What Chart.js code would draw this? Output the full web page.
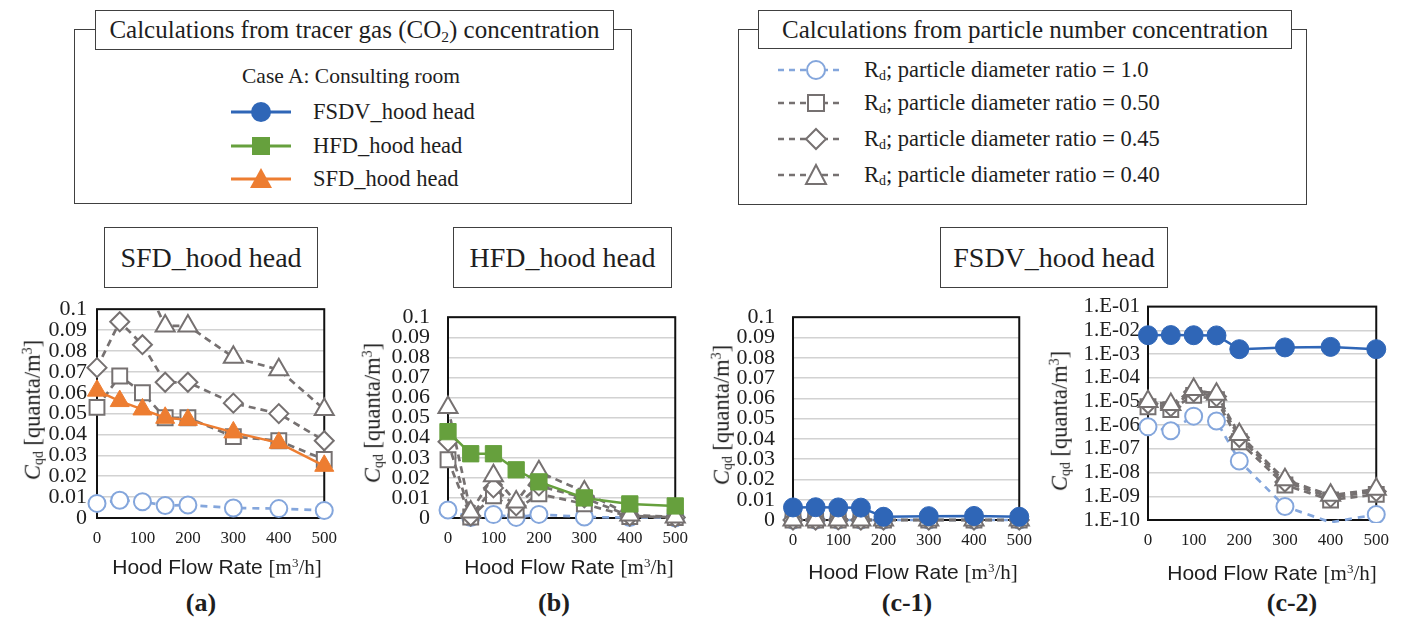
<!DOCTYPE html>
<html><head><meta charset="utf-8">
<script src="https://cdn.jsdelivr.net/npm/chart.js@4.4.1/dist/chart.umd.min.js"></script>
<style>
html,body{margin:0;padding:0;background:#fff;}
body{width:1402px;height:624px;position:relative;overflow:hidden;font-family:'Liberation Serif','Times New Roman',serif;color:#1e1e1e;}
canvas{position:absolute;}
.box{position:absolute;box-sizing:border-box;border:1.5px solid #404040;background:#fff;}
.ttl{display:flex;align-items:center;justify-content:center;white-space:nowrap;}
.c{position:absolute;white-space:nowrap;transform:translate(-50%,-50%);line-height:1;}
.l{position:absolute;white-space:nowrap;transform:translateY(-50%);line-height:1;}
sub{font-size:0.62em;vertical-align:-0.25em;line-height:0;}
sup{font-size:0.62em;vertical-align:0.55em;line-height:0;}
.sans{font-family:'Liberation Sans',Arial,sans-serif;}
.yt{position:absolute;white-space:nowrap;transform:translate(-50%,-50%) rotate(-90deg);font-size:22.5px;line-height:1;}
.xt{font-size:21px;}
.pl{font-size:26px;font-weight:bold;}
.sym{position:absolute;}
</style></head><body>

<!-- Left legend -->
<div class="box" style="left:74px;top:29px;width:558px;height:175px;"></div>
<div class="box ttl" style="left:95px;top:10px;width:519px;height:40px;font-size:25px;"><span>Calculations from tracer gas (CO<sub>2</sub>) concentration</span></div>
<div class="c" style="left:351px;top:77px;font-size:21.5px;">Case A: Consulting room</div>
<svg class="sym" style="left:231px;top:99px" width="62" height="26"><line x1="0" y1="13" x2="60" y2="13" stroke="#2F66B7" stroke-width="3"/><circle cx="30" cy="13" r="10" fill="#2F66B7"/></svg>
<div class="l" style="left:313px;top:112px;font-size:22.5px;">FSDV_hood head</div>
<svg class="sym" style="left:231px;top:133px" width="62" height="26"><line x1="0" y1="13" x2="60" y2="13" stroke="#66A03D" stroke-width="3"/><rect x="21" y="4" width="18" height="18" fill="#66A03D"/></svg>
<div class="l" style="left:313px;top:146px;font-size:22.5px;">HFD_hood head</div>
<svg class="sym" style="left:231px;top:166px" width="62" height="26"><line x1="0" y1="13" x2="60" y2="13" stroke="#ED7D31" stroke-width="3"/><polygon points="30,2 41,22 19,22" fill="#ED7D31"/></svg>
<div class="l" style="left:313px;top:179px;font-size:22.5px;">SFD_hood head</div>

<!-- Right legend -->
<div class="box" style="left:738px;top:29px;width:569px;height:176px;"></div>
<div class="box ttl" style="left:758px;top:10px;width:534px;height:39px;font-size:25px;"><span>Calculations from particle number concentration</span></div>
<svg class="sym" style="left:778px;top:57px" width="66" height="26"><line x1="0" y1="13" x2="66" y2="13" stroke="#84A6DC" stroke-width="2.5" stroke-dasharray="6,5"/><circle cx="38" cy="13" r="9" fill="#fff" stroke="#84A6DC" stroke-width="2"/></svg>
<div class="l" style="left:864px;top:70px;font-size:22.5px;">R<sub>d</sub>; particle diameter ratio = 1.0</div>
<svg class="sym" style="left:778px;top:90px" width="66" height="26"><line x1="0" y1="13" x2="66" y2="13" stroke="#767171" stroke-width="2.5" stroke-dasharray="6,5"/><rect x="30" y="5" width="16" height="16" fill="#fff" stroke="#767171" stroke-width="2"/></svg>
<div class="l" style="left:864px;top:103px;font-size:22.5px;">R<sub>d</sub>; particle diameter ratio = 0.50</div>
<svg class="sym" style="left:778px;top:126px" width="66" height="26"><line x1="0" y1="13" x2="66" y2="13" stroke="#767171" stroke-width="2.5" stroke-dasharray="6,5"/><polygon points="38,3 48,13 38,23 28,13" fill="#fff" stroke="#767171" stroke-width="2"/></svg>
<div class="l" style="left:864px;top:139px;font-size:22.5px;">R<sub>d</sub>; particle diameter ratio = 0.45</div>
<svg class="sym" style="left:778px;top:162px" width="66" height="26"><line x1="0" y1="13" x2="66" y2="13" stroke="#767171" stroke-width="2.5" stroke-dasharray="6,5"/><polygon points="38,3 48,22 28,22" fill="#fff" stroke="#767171" stroke-width="2"/></svg>
<div class="l" style="left:864px;top:175px;font-size:22.5px;">R<sub>d</sub>; particle diameter ratio = 0.40</div>

<!-- Panel title boxes -->
<div class="box ttl" style="left:104px;top:227px;width:214px;height:61px;font-size:28px;">SFD_hood head</div>
<div class="box ttl" style="left:453px;top:227px;width:219px;height:61px;font-size:28px;">HFD_hood head</div>
<div class="box ttl" style="left:940px;top:227px;width:228px;height:61px;font-size:28px;">FSDV_hood head</div>

<canvas id="ca"></canvas>
<canvas id="cb"></canvas>
<canvas id="cc1"></canvas>
<canvas id="cc2"></canvas>

<!-- axis titles -->
<div class="yt" style="left:33px;top:410px;"><i>C</i><sub>qd</sub> [quanta/m<sup>3</sup>]</div>
<div class="yt" style="left:373px;top:413px;"><i>C</i><sub>qd</sub> [quanta/m<sup>3</sup>]</div>
<div class="yt" style="left:722px;top:415px;"><i>C</i><sub>qd</sub> [quanta/m<sup>3</sup>]</div>
<div class="yt" style="left:1060px;top:421px;"><i>C</i><sub>qd</sub> [quanta/m<sup>3</sup>]</div>

<div class="c xt" style="left:217px;top:567px;"><span class="sans">Hood Flow Rate </span>[m<sup>3</sup>/h]</div>
<div class="c xt" style="left:569px;top:567px;"><span class="sans">Hood Flow Rate </span>[m<sup>3</sup>/h]</div>
<div class="c xt" style="left:913px;top:572px;"><span class="sans">Hood Flow Rate </span>[m<sup>3</sup>/h]</div>
<div class="c xt" style="left:1272px;top:573px;"><span class="sans">Hood Flow Rate </span>[m<sup>3</sup>/h]</div>

<div class="c pl" style="left:201px;top:603px;">(a)</div>
<div class="c pl" style="left:554px;top:603px;">(b)</div>
<div class="c pl" style="left:907px;top:603px;">(c-1)</div>
<div class="c pl" style="left:1292px;top:603px;">(c-2)</div>

<script>
// ---- categories / ticks ----
const flowRates = [0, 50, 100, 150, 200, 300, 400, 500];
const xTickValues = [0, 100, 200, 300, 400, 500];
const linearTickValues = [0, 0.01, 0.02, 0.03, 0.04, 0.05, 0.06, 0.07, 0.08, 0.09, 0.1];
const logTickValues = [1e-10, 1e-9, 1e-8, 1e-7, 1e-6, 1e-5, 1e-4, 1e-3, 1e-2, 1e-1];

// ---- (a) SFD_hood head ----
const sfdCO2   = [0.061, 0.056, 0.052, 0.048, 0.047, 0.041, 0.036, 0.025];
const sfdRd100 = [0.0070, 0.0085, 0.0078, 0.0060, 0.0062, 0.0048, 0.0045, 0.0036];
const sfdRd050 = [0.053, 0.068, 0.060, 0.048, 0.048, 0.039, 0.037, 0.028];
const sfdRd045 = [0.072, 0.094, 0.083, 0.065, 0.065, 0.055, 0.050, 0.037];
const sfdRd040 = [0.125, 0.140, 0.115, 0.092, 0.092, 0.077, 0.071, 0.052];

// ---- (b) HFD_hood head ----
const hfdCO2   = [0.043, 0.032, 0.032, 0.024, 0.018, 0.010, 0.007, 0.006];
const hfdRd100 = [0.0040, 0.0002, 0.0017, 0.0003, 0.0018, 0.0005, 0.0002, 0.0001];
const hfdRd050 = [0.029, 0.0005, 0.011, 0.004, 0.012, 0.007, 0.0007, 0.0002];
const hfdRd045 = [0.038, 0.001, 0.015, 0.006, 0.016, 0.010, 0.001, 0.0003];
const hfdRd040 = [0.055, 0.003, 0.021, 0.008, 0.023, 0.013, 0.0015, 0.0005];

// ---- (c) FSDV_hood head ----
const fsdvCO2   = [0.0062, 0.0063, 0.0062, 0.0061, 0.0016, 0.0019, 0.0020, 0.0016];
const fsdvRd100 = [8.5e-7, 5.8e-7, 2.4e-6, 1.5e-6, 3.1e-8, 3.7e-10, 8e-11, 1.7e-10];
const fsdvRd050 = [6e-6, 4.5e-6, 1.8e-5, 1.2e-5, 2e-7, 3e-9, 7e-10, 1.2e-9];
const fsdvRd045 = [8e-6, 6e-6, 2.5e-5, 1.6e-5, 3e-7, 4e-9, 9e-10, 1.6e-9];
const fsdvRd040 = [1.0e-5, 7.5e-6, 3.2e-5, 2.0e-5, 4e-7, 5e-9, 1.1e-9, 2e-9];

const COL = {blue:'#2F66B7', green:'#66A03D', orange:'#ED7D31', lblue:'#84A6DC', gray:'#767171'};
const SERIF = "'Liberation Serif','Times New Roman',serif";

function pts(arr){ return flowRates.map((x,i)=>({x:x, y:arr[i]})); }
function co2Set(label, arr, color, style, r){
  return {label, data:pts(arr), borderColor:color, backgroundColor:color, borderWidth:2.5,
    pointStyle:style, pointRadius:r, pointBorderWidth:1, pointBorderColor:color, pointBackgroundColor:color};
}
function rdSet(label, arr, color, style, r, dash, log){
  // on the log panel, markers below the axis minimum are not shown
  const radius = log ? (c => (c.raw && c.raw.y < 1e-10) ? 0 : r) : r;
  return {label, data:pts(arr), borderColor:color, backgroundColor:'#fff', borderWidth:2.7, borderDash:dash,
    pointStyle:style, pointRadius:radius, pointBorderWidth:2, pointBorderColor:color, pointBackgroundColor:'#fff'};
}
// dataset 0 is drawn on top in Chart.js
function panelSets(co2Label, co2, co2Color, co2Style, co2R, r100, r050, r045, r040, log){
  return [
    co2Set(co2Label, co2, co2Color, co2Style, co2R),
    rdSet('Rd = 0.40', r040, COL.gray, 'triangle', 11, [7,5], log),
    rdSet('Rd = 0.45', r045, COL.gray, 'rectRot', 9.5, [7,5], log),
    rdSet('Rd = 0.50', r050, COL.gray, 'rect', 10.5, [7,5], log),
    rdSet('Rd = 1.0', r100, COL.lblue, 'circle', 8.5, [7,6], log)
  ];
}

const framePlugin = {
  id:'frame',
  beforeDatasetsDraw(chart){
    const a = chart.chartArea, c = chart.ctx;
    c.save(); c.strokeStyle = '#111'; c.lineWidth = 2;
    c.strokeRect(a.left, a.top, a.right - a.left, a.bottom - a.top);
    c.restore();
  }
};

function makeChart(id, g, datasets, log){
  const cv = document.getElementById(id);
  const top = 286, bottomEdge = 556;
  const left = g.L - g.yw, W = g.R + 22 - left, H = bottomEdge - top;
  cv.width = W; cv.height = H;
  cv.style.left = left + 'px'; cv.style.top = top + 'px';
  cv.style.width = W + 'px'; cv.style.height = H + 'px';
  datasets.forEach(d => d.clip = g.clip);
  const yScale = log ? {
      type:'logarithmic', min:1e-10, max:1e-1,
      afterBuildTicks: s => { s.ticks = logTickValues.map(v => ({value:v})); },
      ticks:{padding:g.pad, font:{family:SERIF, size:21}, color:'#1e1e1e', autoSkip:false,
        callback: v => '1.E-' + String(Math.round(-Math.log10(v))).padStart(2,'0')}
    } : {
      type:'linear', min:0, max:0.1,
      afterBuildTicks: s => { s.ticks = linearTickValues.map(v => ({value:v})); },
      ticks:{padding:g.pad, font:{family:SERIF, size:22}, color:'#1e1e1e', autoSkip:false,
        callback: v => String(+Number(v).toFixed(2))}
    };
  Object.assign(yScale, {
    afterFit: s => { s.width = g.yw; },
    grid:{color:'#D2D2D2', lineWidth:1.5, drawTicks:false},
    border:{display:false}
  });
  return new Chart(cv, {
    type:'line',
    data:{datasets},
    options:{
      responsive:false, animation:false, devicePixelRatio:1,
      layout:{padding:{left:0, right:22, top:g.T - top, bottom:0}},
      plugins:{legend:{display:false}, tooltip:{enabled:false}},
      scales:{
        x:{type:'linear', min:0, max:500,
          afterBuildTicks: s => { s.ticks = xTickValues.map(v => ({value:v})); },
          afterFit: s => { s.height = bottomEdge - g.B; },
          grid:{display:false, drawTicks:false}, border:{display:false},
          ticks:{padding:10, font:{family:SERIF, size:17}, color:'#1e1e1e', maxRotation:0, autoSkip:false}},
        y: yScale
      }
    },
    plugins:[framePlugin]
  });
}

const clipStd = {left:20, right:20, top:0, bottom:20};
makeChart('ca', {L:97, R:325, T:304, B:518, yw:92, pad:10, clip:clipStd},
  panelSets('SFD_hood head', sfdCO2, COL.orange, 'triangle', 11, sfdRd100, sfdRd050, sfdRd045, sfdRd040, false), false);
makeChart('cb', {L:448, R:676, T:304, B:518, yw:92, pad:18, clip:clipStd},
  panelSets('HFD_hood head', hfdCO2, COL.green, 'rect', 11.5, hfdRd100, hfdRd050, hfdRd045, hfdRd040, false), false);
makeChart('cc1', {L:793, R:1020, T:305, B:520, yw:92, pad:18, clip:clipStd},
  panelSets('FSDV_hood head', fsdvCO2, COL.blue, 'circle', 9.5, fsdvRd100, fsdvRd050, fsdvRd045, fsdvRd040, false), false);
makeChart('cc2', {L:1148, R:1377, T:306, B:520, yw:92, pad:8, clip:{left:20, right:20, top:20, bottom:3}},
  panelSets('FSDV_hood head', fsdvCO2, COL.blue, 'circle', 9.5, fsdvRd100, fsdvRd050, fsdvRd045, fsdvRd040, true), true);
</script>
</body></html>
